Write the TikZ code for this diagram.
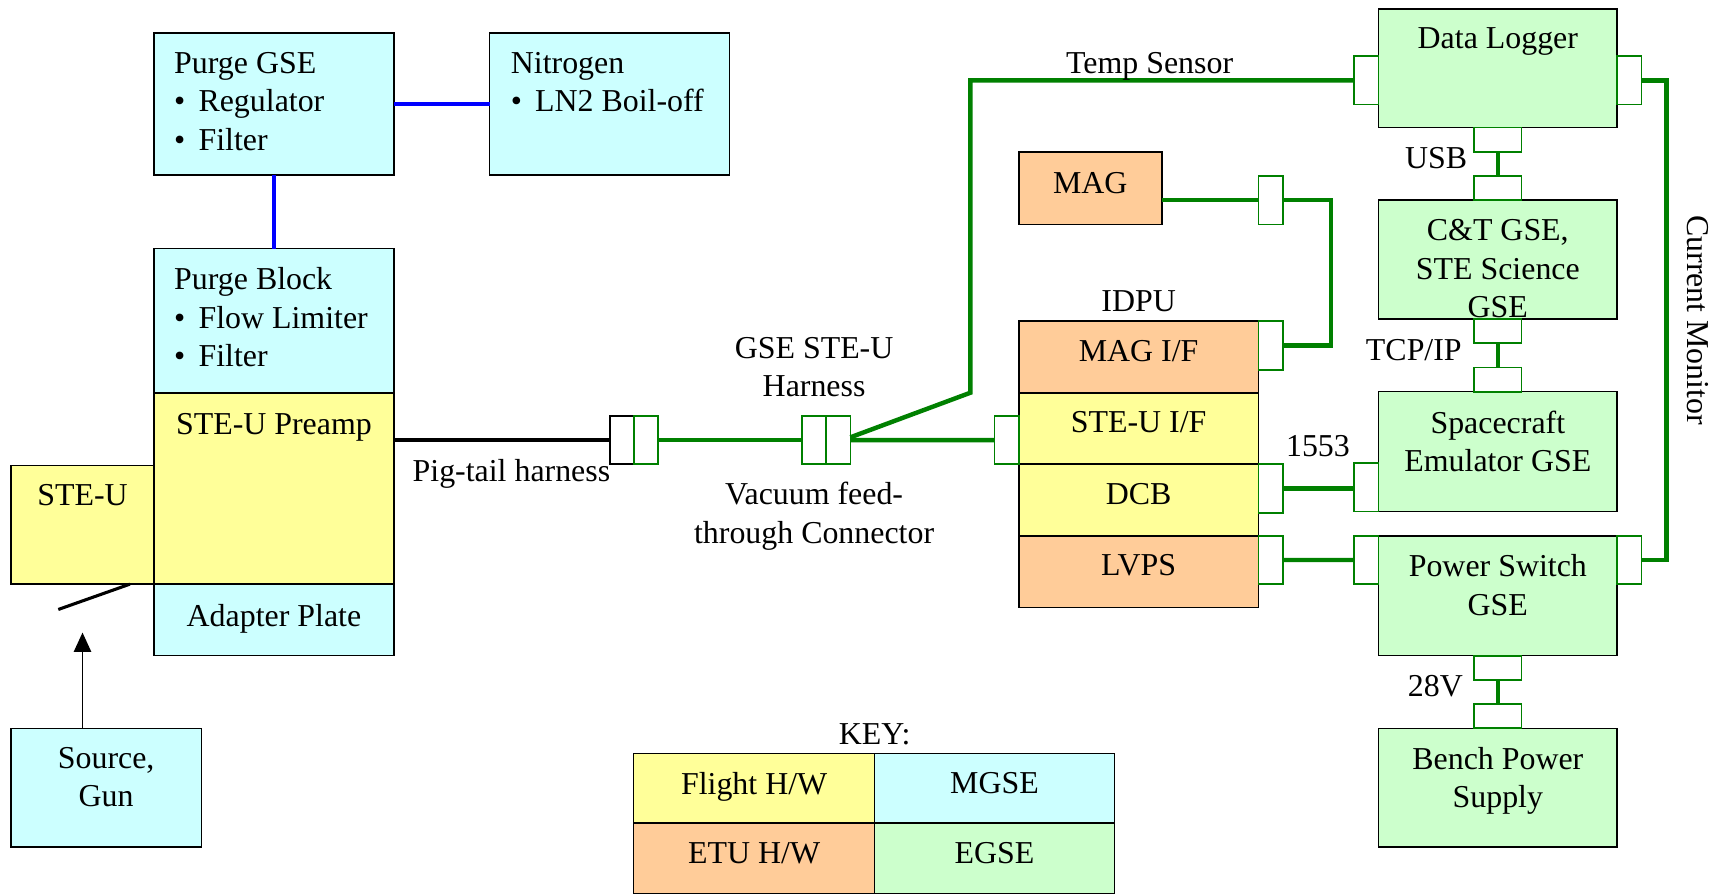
\documentclass[tikz,border=0pt]{standalone}
\usepackage{fontspec}
\setmainfont{Liberation Serif}
\usepackage{xcolor}
\definecolor{flight}{HTML}{FFFF99}
\definecolor{mgse}{HTML}{CCFFFF}
\definecolor{etu}{HTML}{FFCC99}
\definecolor{egse}{HTML}{CCFFCC}
\definecolor{wire}{HTML}{008000}
\definecolor{purge}{HTML}{0000FF}
\usepackage{tikz}
\usetikzlibrary{arrows.meta, positioning}
\newcommand{\bul}{\textbullet\hspace{0.24cm}}

\begin{document}
\begin{tikzpicture}[x=0.02cm, y=-0.02cm,
  txt/.style={font=\fontsize{16.5}{19.9}\selectfont, inner sep=0pt, align=center},
  box/.style={draw, line width=0.8pt, fill=#1, inner sep=0pt, outer sep=0pt},
  plug/.style={draw=wire, fill=white, line width=0.9pt, inner sep=0pt, outer sep=0pt,
    minimum width=0.44cm, minimum height=0.88cm},
  plugtop/.style={plug, minimum width=0.86cm, minimum height=0.44cm},
  cable/.style={wire, line width=2.3pt},
  hose/.style={purge, line width=2.3pt}
]
  \useasboundingbox (0,0) rectangle (1568,812);

  % purge and preamp side
  \node[box=mgse, minimum width=4.36cm, minimum height=2.58cm] (purgegse) at (249,94.5) {};
  \node[box=mgse, minimum width=4.36cm, minimum height=2.58cm] (nitrogen) at (554,94.5) {};
  \node[box=mgse, minimum width=4.36cm, minimum height=2.62cm] (purgeblock) at (249,291.5) {};
  \node[box=flight, minimum width=4.36cm, minimum height=3.48cm] (preamp) at (249,444) {};
  \node[box=mgse, minimum width=4.36cm, minimum height=1.3cm] (adapter) at (249,563.5) {};
  \node[box=flight, minimum width=2.6cm, minimum height=2.16cm] (steu) at (75,477) {};
  \node[box=mgse, minimum width=3.46cm, minimum height=2.16cm] (source) at (96.5,716) {};

  \node[txt, align=left, below right=0.34cm and 0.36cm of purgegse.north west] (purgegse-t)
    {Purge GSE\\\bul Regulator\\\bul Filter};
  \node[txt, align=left, below right=0.34cm and 0.38cm of nitrogen.north west] (nitrogen-t)
    {Nitrogen\\\bul LN2 Boil-off};
  \node[txt, align=left, below right=0.34cm and 0.36cm of purgeblock.north west] (purgeblock-t)
    {Purge Block\\\bul Flow Limiter\\\bul Filter};
  \node[txt, below=0.36cm of preamp.north] (preamp-t) {STE-U Preamp};
  \node[txt, below=0.36cm of adapter.north] (adapter-t) {Adapter Plate};
  \node[txt, below=0.34cm of steu.north] (steu-t) {STE-U};
  \node[txt, below=0.34cm of source.north] (source-t) {Source,\\Gun};

  % IDPU stack
  \node[box=etu, minimum width=2.6cm, minimum height=1.32cm] (mag) at (991,171) {};
  \node[box=etu, minimum width=4.36cm, minimum height=1.3cm] (magif) at (1035,324.5) {};
  \node[box=flight, minimum width=4.36cm, minimum height=1.3cm] (steuif) at (1035,389.5) {};
  \node[box=flight, minimum width=4.36cm, minimum height=1.3cm] (dcb) at (1035,454.5) {};
  \node[box=etu, minimum width=4.36cm, minimum height=1.3cm] (lvps) at (1035,519.5) {};

  \node[txt, below=0.36cm of mag.north] (mag-t) {MAG};
  \node[txt, below=0.34cm of magif.north] (magif-t) {MAG I/F};
  \node[txt, below=0.34cm of steuif.north] (steuif-t) {STE-U I/F};
  \node[txt, below=0.34cm of dcb.north] (dcb-t) {DCB};
  \node[txt, below=0.34cm of lvps.north] (lvps-t) {LVPS};

  % EGSE column
  \node[box=egse, minimum width=4.34cm, minimum height=2.16cm] (datalogger) at (1361.5,62) {};
  \node[box=egse, minimum width=4.34cm, minimum height=2.16cm] (ctgse) at (1361.5,236) {};
  \node[box=egse, minimum width=4.34cm, minimum height=2.18cm] (scemu) at (1361.5,410.5) {};
  \node[box=egse, minimum width=4.34cm, minimum height=2.18cm] (pwrsw) at (1361.5,541.5) {};
  \node[box=egse, minimum width=4.34cm, minimum height=2.16cm] (bench) at (1361.5,716) {};

  \node[txt, below=0.34cm of datalogger.north] (datalogger-t) {Data Logger};
  \node[txt, below=0.34cm of ctgse.north] (ctgse-t) {C\&T GSE,\\STE Science\\GSE};
  \node[txt, below=0.34cm of scemu.north] (scemu-t) {Spacecraft\\Emulator GSE};
  \node[txt, below=0.34cm of pwrsw.north] (pwrsw-t) {Power Switch\\GSE};
  \node[txt, below=0.34cm of bench.north] (bench-t) {Bench Power\\Supply};

  % key
  \node[box=flight, minimum width=4.38cm, minimum height=1.26cm] (keyflight) at (685.5,716.5) {};
  \node[box=mgse, minimum width=4.36cm, minimum height=1.26cm] (keymgse) at (904,716.5) {};
  \node[box=etu, minimum width=4.38cm, minimum height=1.28cm] (keyetu) at (685.5,780) {};
  \node[box=egse, minimum width=4.36cm, minimum height=1.28cm] (keyegse) at (904,780) {};
  \node[txt, below=0.34cm of keyflight.north] (keyflight-t) {Flight H/W};
  \node[txt, below=0.34cm of keymgse.north] (keymgse-t) {MGSE};
  \node[txt, below=0.34cm of keyetu.north] (keyetu-t) {ETU H/W};
  \node[txt, below=0.34cm of keyegse.north] (keyegse-t) {EGSE};
  \node[txt, anchor=base] (key-l) at (795,677) {KEY:};

  % connectors
  \node[plug, draw=black] (pigplug) at (565.5,400) {};
  \node[plug] (pigsock) at (587,400) {};
  \node[plug] (vacin) at (740,400) {};
  \node[plug] (vacout) at (762,400) {};
  \node[plug, anchor=south east] (steuifplug) at (steuif.south west) {};
  \node[plug, anchor=north west] (magifplug) at (magif.north east) {};
  \node[plug] (magplug) at (1155,182) {};
  \node[plug, anchor=north west] (dcbplug) at (dcb.north east) {};
  \node[plug, anchor=north west] (lvpsplug) at (lvps.north east) {};
  \node[plug, anchor=south east] (scemuplug) at (scemu.south west) {};
  \node[plug, anchor=north east] (pwrswplugl) at (pwrsw.north west) {};
  \node[plug, anchor=north west] (pwrswplugr) at (pwrsw.north east) {};
  \node[plug] (dlplugl) at (1242,73) {};
  \node[plug] (dlplugr) at (1481,73) {};
  \node[plugtop, anchor=north] (dlplugb) at (datalogger.south) {};
  \node[plugtop, anchor=south] (ctplugt) at (ctgse.north) {};
  \node[plugtop, anchor=north] (ctplugb) at (ctgse.south) {};
  \node[plugtop, anchor=south] (scplugt) at (scemu.north) {};
  \node[plugtop, anchor=north] (pwplugb) at (pwrsw.south) {};
  \node[plugtop, anchor=south] (bnplugt) at (bench.north) {};

  \coordinate (tempbend) at (882,357);
  \coordinate (magrun) at (1210,250);
  \coordinate (monrun) at (1515,300);
  \coordinate (gunaim) at (75,575);

  % wiring
  \draw[hose] (purgegse.east) -- (nitrogen.west);
  \draw[hose] (purgegse.south) -- (purgeblock.north);
  \draw[line width=2.3pt] (preamp.east |- pigplug) -- (pigplug.west);
  \draw[cable] (pigsock.east) -- (vacin.west);
  \draw[cable] (vacout.east) -- (steuifplug.west);
  \draw[cable] ([yshift=0.05cm]vacout.east) -- (tempbend) |- (dlplugl.west);
  \draw[cable] (mag.east |- magplug) -- (magplug.west);
  \draw[cable] (magplug.east) -| (magrun) |- (magifplug.east);
  \draw[cable] (dcbplug.east) -- (dcbplug.east -| scemuplug.west);
  \draw[cable] (lvpsplug.east) -- (pwrswplugl.west);
  \draw[cable] (dlplugr.east) -| (monrun) |- (pwrswplugr.east);
  \draw[cable] (dlplugb) -- (ctplugt);
  \draw[cable] (ctplugb) -- (scplugt);
  \draw[cable] (pwplugb) -- (bnplugt);
  \draw[line width=0.7pt, -{Triangle[length=10pt, width=9pt]}] (source.north -| gunaim) -- (gunaim);
  \draw[line width=1.6pt] (118,531) -- (53,554);

  % labels
  \node[txt, anchor=base east] (pigtail-l) at (555,438) {Pig-tail harness};
  \node[txt, anchor=north] (harness-l) at (740,306) {GSE STE-U\\Harness};
  \node[txt, anchor=north] (vacuum-l) at (740,438) {Vacuum feed-\\through Connector};
  \node[txt, anchor=base] (temp-l) at (1045,67) {Temp Sensor};
  \node[txt, anchor=base] (idpu-l) at (1035,283) {IDPU};
  \node[txt, anchor=base east] (usb-l) at (1334,153) {USB};
  \node[txt, anchor=base east] (tcp-l) at (1329,328) {TCP/IP};
  \node[txt, anchor=base] (bus-l) at (1198,415) {1553};
  \node[txt, anchor=base east] (v28-l) at (1330,633) {28V};
  \node[txt, rotate=-90] (curmon-l) at (1543,291) {Current Monitor};
\end{tikzpicture}
\end{document}
